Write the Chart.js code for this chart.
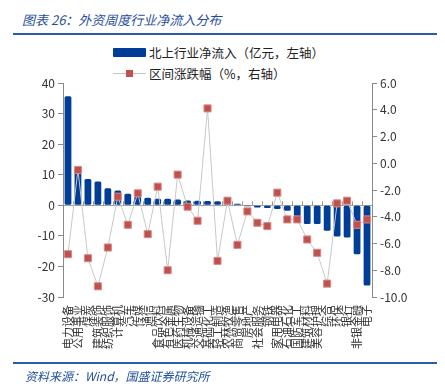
<!DOCTYPE html>
<html>
<head>
<meta charset="utf-8">
<script src="https://cdn.jsdelivr.net/npm/chart.js@4.4.0/dist/chart.umd.min.js"></script>
<style>
body { margin: 0; width: 445px; height: 389px; background: #fff; position: relative; overflow: hidden; font-family: "Noto Sans CJK SC", sans-serif; }
#title { position: absolute; left: 22px; top: 10px; font-size: 13px; font-style: italic; color: #1f4e9c; white-space: nowrap; }
.rule { position: absolute; left: 13px; width: 424px; height: 2px; background: #2c5ba8; }
.leg { position: absolute; left: 113px; height: 14px; font-size: 12.5px; color: #222; white-space: nowrap; }
.leg .txt { position: absolute; left: 36px; top: -3px; }
#source { position: absolute; left: 25px; top: 367px; font-size: 12px; font-style: italic; color: #1f4e9c; white-space: nowrap; }
#wrap { position: absolute; left: 0; top: 38px; width: 445px; height: 325px; }
</style>
</head>
<body>
<div id="title">图表 26：外资周度行业净流入分布</div>
<div class="rule" style="top:33px"></div>

<div class="leg" style="top:46px">
  <div style="position:absolute;left:0;top:2px;width:33px;height:9px;background:#003d96;border-radius:1px"></div>
  <span class="txt">北上行业净流入（亿元，左轴）</span>
</div>
<div class="leg" style="top:67px">
  <div style="position:absolute;left:0;top:6px;width:33px;height:1px;background:#c4c4c4"></div>
  <div style="position:absolute;left:13px;top:3px;width:7px;height:7px;background:#c0504d"></div>
  <span class="txt">区间涨跌幅（%，右轴）</span>
</div>

<div id="wrap"><canvas id="chart" width="445" height="325"></canvas></div>

<div class="rule" style="top:362px"></div>
<div id="source">资料来源：Wind，国盛证券研究所</div>

<script>
const industries = ['电力设备', '公用事业', '煤炭', '建筑装饰', '纺织服饰', '计算机', '汽车', '传媒', '通信',
    '食品饮料', '有色金属', '医药生物', '机械设备', '交通运输', '基础化工', '轻工制造', '农林牧渔', '商贸零售',
    '房地产', '社会服务', '钢铁', '家用电器', '石油石化', '国防军工', '建筑材料', '美容护理', '综合', '环保',
    '银行', '非银金融', '电子'];
const netInflow = [35.7, 11.1, 8.6, 7.8, 5.6, 4.8, 3.8, 2.9, 2.5,
    2.1, 2.1, 1.9, 1.6, 1.5, 1.4, 1.3, 1.1, 0.5,
    -0.3, -0.7, -0.9, -1.2, -1.8, -3.6, -6.1, -6.1, -8.3, -10.2,
    -10.5, -16.0, -26.2];
const periodChange = [-6.8, -0.5, -7.1, -9.2, -6.3, -2.5, -4.6, -2.25, -5.3,
    -1.75, -8.0, -0.85, -3.25, -4.3, 4.1, -7.3, -2.8, -6.1,
    -3.6, -4.45, -4.7, -2.2, -4.2, -4.2, -5.7, -6.7, -9.0, -3.0,
    -2.8, -4.6, -4.2];
const leftTicks = [-30, 40, 10];
const rightTicks = [-10, 6, 2];

// short tick marks along the zero line between categories
const zeroTicks = {
    id: 'zeroTicks',
    beforeDatasetsDraw(chart) {
        const xs = chart.scales.x, ys = chart.scales.y;
        const y0 = ys.getPixelForValue(0);
        const ctx = chart.ctx;
        ctx.save();
        ctx.strokeStyle = '#9a9a9a';
        ctx.lineWidth = 1;
        ctx.beginPath();
        for (let i = 0; i <= industries.length; i++) {
            const x = Math.round(xs.getPixelForValue(i - 0.5)) + 0.5;
            ctx.moveTo(x, y0 - 4);
            ctx.lineTo(x, y0);
        }
        ctx.stroke();
        ctx.restore();
    }
};

const tickFont = { family: '"Noto Sans CJK SC", sans-serif', size: 12 };

new Chart(document.getElementById('chart'), {
    data: {
        labels: industries,
        datasets: [
            {
                type: 'line',
                label: '区间涨跌幅（%，右轴）',
                data: periodChange,
                yAxisID: 'y1',
                borderColor: '#c8c8c8',
                borderWidth: 1,
                pointStyle: 'rect',
                pointRadius: 5,
                pointBackgroundColor: '#c0504d',
                pointBorderColor: '#d58b89',
                pointBorderWidth: 1,
                tension: 0,
                order: 0,
            },
            {
                type: 'bar',
                label: '北上行业净流入（亿元，左轴）',
                data: netInflow,
                yAxisID: 'y',
                backgroundColor: '#003d96',
                barPercentage: 0.8,
                categoryPercentage: 0.85,
                borderRadius: 1.5,
                borderSkipped: false,
                order: 1,
            },
        ],
    },
    options: {
        responsive: false,
        devicePixelRatio: 1,
        animation: false,
        layout: { padding: { top: 45, left: 0, right: 0, bottom: 0 } },
        plugins: { legend: { display: false }, tooltip: { enabled: false } },
        scales: {
            x: {
                grid: { display: false, drawTicks: false },
                border: { display: false },
                ticks: {
                    autoSkip: false, minRotation: 90, maxRotation: 90, padding: 8,
                    color: '#333', font: { family: '"Noto Sans CJK SC", sans-serif', size: 11 },
                },
                afterFit: s => { s.height = 66; },
            },
            y: {
                position: 'left',
                min: leftTicks[0], max: leftTicks[1],
                ticks: { stepSize: leftTicks[2], color: '#333', font: tickFont, padding: 3 },
                grid: {
                    color: c => (c.tick && c.tick.value === 0 ? '#a0a0a0' : 'transparent'),
                    tickColor: '#8a8a8a', tickLength: 5,
                },
                border: { color: '#8a8a8a' },
                afterFit: s => { s.width = 63; },
            },
            y1: {
                position: 'right',
                min: rightTicks[0], max: rightTicks[1],
                ticks: { stepSize: rightTicks[2], color: '#333', font: tickFont, padding: 3,
                    callback: v => Number(v).toFixed(1) },
                grid: { drawOnChartArea: false, tickColor: '#8a8a8a', tickLength: 5 },
                border: { color: '#8a8a8a' },
                afterFit: s => { s.width = 73; },
            },
        },
    },
    plugins: [zeroTicks],
});
</script>
</body>
</html>
